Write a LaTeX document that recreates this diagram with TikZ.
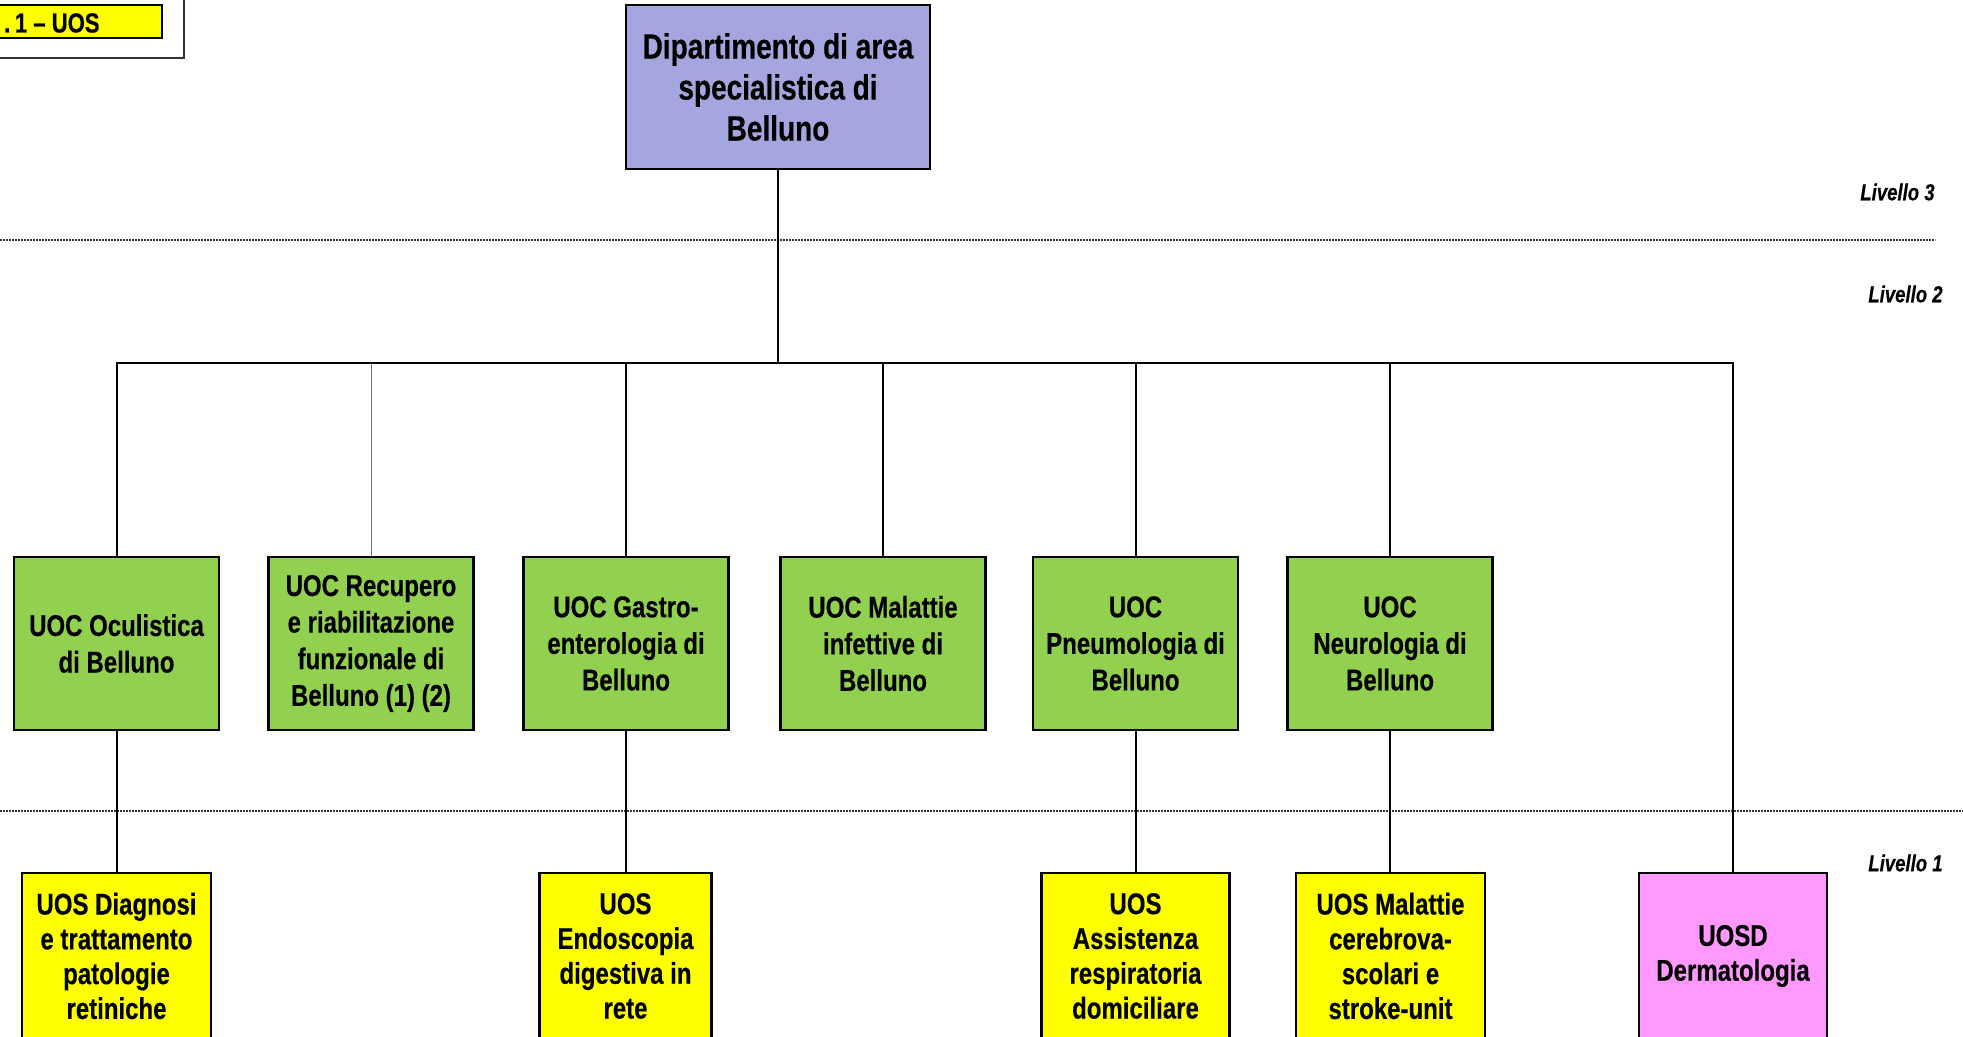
\documentclass[tikz,border=0pt]{standalone}
\usepackage{fontspec}
\setmainfont{Liberation Sans}[FakeStretch=0.8, BoldFeatures={FakeBold=0.4}, BoldItalicFeatures={FakeBold=0.4}]
\definecolor{deptblue}{HTML}{A5A5E0}
\definecolor{uocgreen}{HTML}{92D050}
\definecolor{uosyellow}{HTML}{FFFF00}
\definecolor{uosdpink}{HTML}{FF99FF}
\definecolor{dotgray}{HTML}{333333}
\tikzset{
  boxbase/.style={draw=black, line width=1.25pt, align=center, inner sep=0pt, text=black},
  deptbox/.style={boxbase, fill=deptblue, minimum width=152pt, minimum height=82pt,
    font=\fontsize{17.5}{20.5}\selectfont\bfseries},
  gbox/.style={boxbase, fill=uocgreen, minimum width=102.5pt, minimum height=86.5pt,
    font=\fontsize{15}{18.3}\selectfont\bfseries},
  ybox/.style={boxbase, fill=uosyellow, minimum height=83pt,
    font=\fontsize{15}{17.4}\selectfont\bfseries},
  pbox/.style={ybox, fill=uosdpink},
  conn/.style={draw=black, line width=1pt},
  thinconn/.style={draw=black!55, line width=0.5pt},
  levelline/.style={draw=dotgray, line width=0.85pt, dash pattern=on 0.8pt off 0.7pt},
  levellabel/.style={anchor=east, inner sep=0pt, font=\fontsize{11.6}{13}\selectfont\bfseries\itshape}
}
\begin{document}
\begin{tikzpicture}[x=0.5pt,y=-0.5pt]
\useasboundingbox (0,0) rectangle (1963,1037);
\clip (0,0) rectangle (1963,1037);

% legend (cut off at top left)
\node[draw=black!80, line width=0.9pt, fill=white, minimum width=97pt, minimum height=34pt, inner sep=0pt] (legframe) at (87,24) {};
\node[draw=black, line width=1.1pt, fill=uosyellow, minimum width=86pt, minimum height=16.5pt, inner sep=0pt] (legbox) at (76,21.5) {};
\node[anchor=east, inner sep=0pt, font=\fontsize{13.8}{15}\selectfont\bfseries] (legtext) at (100,23) {.\,1 – UOS};

% level separators
\draw[levelline] (0,240) -- (1935,240);
\draw[levelline] (0,811) -- (1963,811);
\node[levellabel] (liv3) at (1935,192) {Livello 3};
\node[levellabel] (liv2) at (1943,294) {Livello 2};
\node[levellabel] (liv1) at (1943,863) {Livello 1};

% department
\node[deptbox] (dept) at (778,87) {Dipartimento di area\\specialistica di\\Belluno};

% UOC row
\node[gbox] (g1) at (116.5,643.5) {UOC Oculistica\\di Belluno};
\node[gbox] (g2) at (371,643.5) {UOC Recupero\\e riabilitazione\\funzionale di\\Belluno (1) (2)};
\node[gbox] (g3) at (626,643.5) {UOC Gastro-\\enterologia di\\Belluno};
\node[gbox] (g4) at (883,643.5) {UOC Malattie\\infettive di\\Belluno};
\node[gbox] (g5) at (1135.5,643.5) {UOC\\Pneumologia di\\Belluno};
\node[gbox] (g6) at (1390,643.5) {UOC\\Neurologia di\\Belluno};

% UOS row
\node[ybox, minimum width=94.5pt] (y1) at (116.5,956) {UOS Diagnosi\\e trattamento\\patologie\\retiniche};
\node[ybox, minimum width=86pt] (y3) at (625.5,956) {UOS\\Endoscopia\\digestiva in\\rete};
\node[ybox, minimum width=94pt] (y5) at (1135.5,956) {UOS\\Assistenza\\respiratoria\\domiciliare};
\node[ybox, minimum width=94.5pt] (y6) at (1390.5,956) {UOS Malattie\\cerebrova-\\scolari e\\stroke-unit};
\node[pbox, minimum width=94pt] (p1) at (1733,956) {UOSD\\Dermatologia};

% connectors
\coordinate (bus) at (778,363);
\draw[thinconn] (g2.north |- bus) -- (g2.north);
\draw[conn] (dept.south) -- (bus);
\draw[conn] (bus) -| (g1.north);
\draw[conn] (bus) -| (g3.north);
\draw[conn] (bus) -| (g4.north);
\draw[conn] (bus) -| (g5.north);
\draw[conn] (bus) -| (g6.north);
\draw[conn] (bus) -| (p1.north);
\draw[conn] (g1.south) -- (g1.south |- y1.north);
\draw[conn] (g3.south) -- (g3.south |- y3.north);
\draw[conn] (g5.south) -- (g5.south |- y5.north);
\draw[conn] (g6.south) -- (g6.south |- y6.north);
\end{tikzpicture}
\end{document}
